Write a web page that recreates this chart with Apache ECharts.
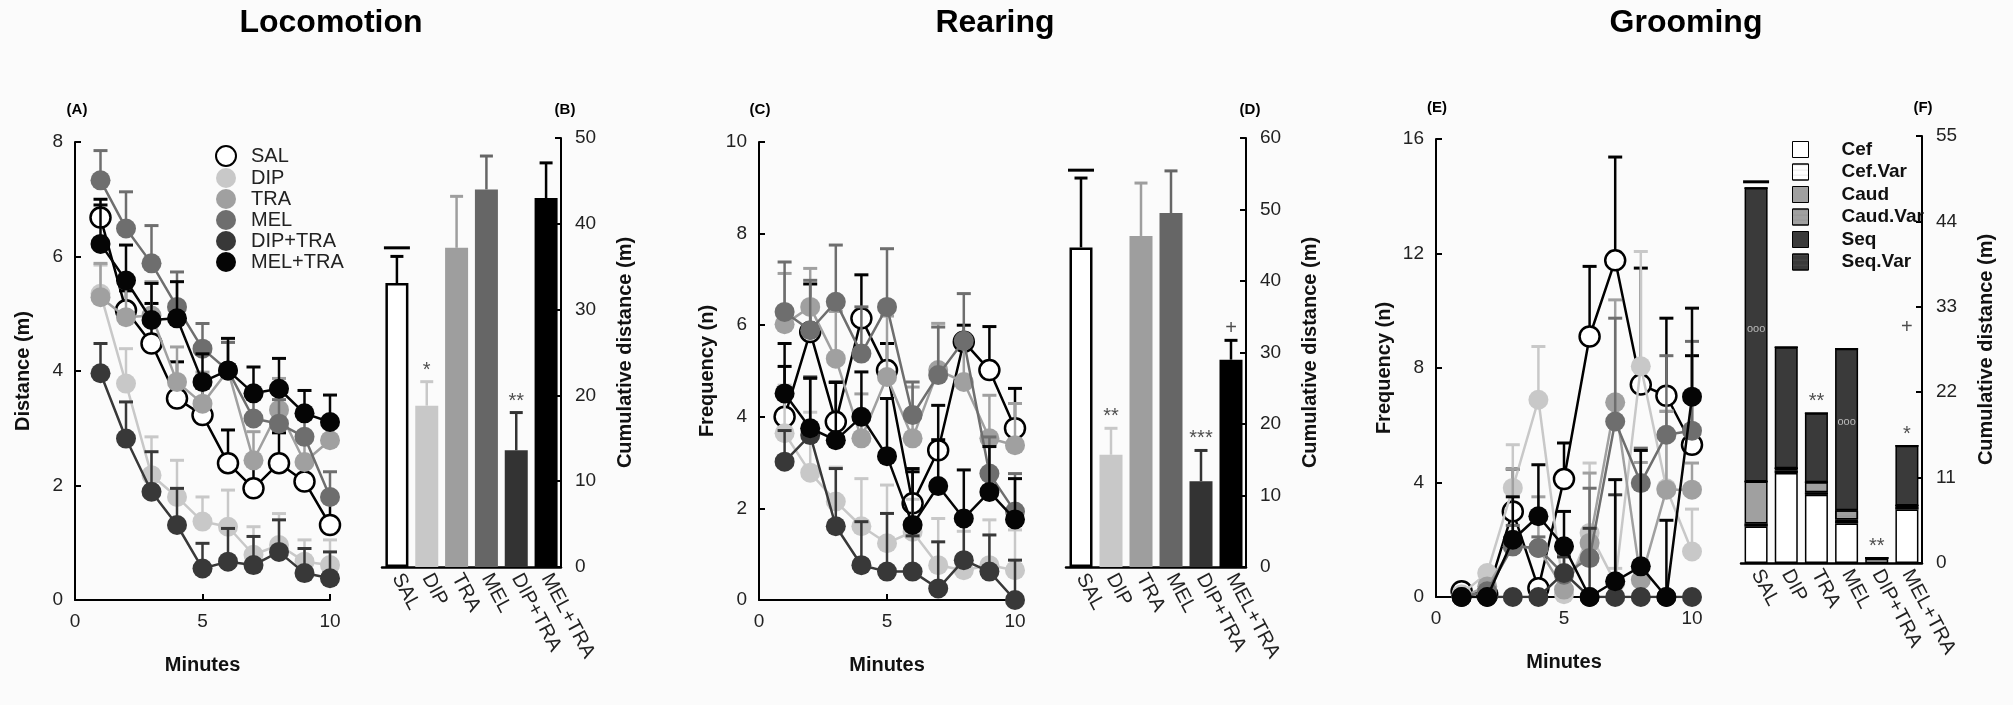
<!DOCTYPE html>
<html>
<head>
<meta charset="utf-8">
<script src="https://cdn.jsdelivr.net/npm/echarts@6/dist/echarts.min.js"></script>
<style>
  html, body { margin: 0; padding: 0; background: #fbfbfb; }
  #chart { width: 2013px; height: 705px; }
</style>
</head>
<body>
<div id="chart"></div>
<script>
// groups and time points
const groups = ['SAL', 'DIP', 'TRA', 'MEL', 'DIP+TRA', 'MEL+TRA'];
const minutes = [1, 2, 3, 4, 5, 6, 7, 8, 9, 10];

// (A) locomotion per minute: mean and top of error bar
const locoSal = [6.68, 5.06, 4.48, 3.52, 3.23, 2.39, 1.95, 2.39, 2.07, 1.31];
const locoSalErr = [7.0, 5.4, 5.18, 4.16, 3.7, 2.97, 2.4, 2.92, 2.5, 1.7];
const locoDip = [5.35, 3.78, 2.18, 1.80, 1.37, 1.28, 0.79, 0.96, 0.67, 0.61];
const locoDipErr = [5.85, 4.39, 2.85, 2.44, 1.80, 1.92, 1.28, 1.51, 1.05, 1.05];
const locoTra = [5.29, 4.94, 4.97, 3.81, 3.43, 4.01, 2.44, 3.32, 2.41, 2.79];
const locoTraErr = [5.88, 5.47, 5.56, 4.42, 3.98, 4.5, 2.94, 3.87, 2.9, 3.2];
const locoMel = [7.33, 6.49, 5.88, 5.12, 4.39, 4.01, 3.17, 3.08, 2.85, 1.80];
const locoMelErr = [7.85, 7.13, 6.54, 5.73, 4.83, 4.5, 3.6, 3.5, 3.3, 2.24];
const locoDipTra = [3.96, 2.82, 1.89, 1.31, 0.55, 0.67, 0.61, 0.84, 0.47, 0.38];
const locoDipTraErr = [4.48, 3.46, 2.59, 1.95, 0.99, 1.25, 1.11, 1.40, 0.90, 0.84];
const locoMelTra = [6.22, 5.58, 4.89, 4.92, 3.81, 4.01, 3.61, 3.69, 3.26, 3.11];
const locoMelTraErr = [6.9, 6.20, 5.53, 5.56, 4.30, 4.57, 4.07, 4.22, 3.66, 3.58];

// (B) cumulative locomotion
const locoTotal = [33.1, 18.8, 37.2, 44.0, 13.6, 43.0];
const locoTotalErr = [36.2, 21.6, 43.2, 47.9, 18.0, 47.1];
const locoMarks = ['', '*', '', '', '**', ''];
const locoSalLine = 37.2;

// (C) rearing per minute
const rearSal = [4.0, 5.85, 3.89, 6.15, 5.02, 2.11, 3.27, 5.64, 5.02, 3.75];
const rearSalErr = [5.1, 6.9, 4.75, 7.1, 5.6, 2.8, 3.5, 6.0, 5.97, 4.62];
const rearDip = [3.64, 2.78, 2.15, 1.61, 1.24, 1.49, 0.76, 0.65, 0.76, 0.65];
const rearDipErr = [4.69, 4.1, 2.9, 2.65, 2.51, 2.2, 1.78, 1.5, 1.75, 1.53];
const rearTra = [6.02, 6.4, 5.27, 3.53, 4.87, 3.53, 5.02, 4.76, 3.53, 3.38];
const rearTraErr = [7.13, 7.24, 6.3, 4.5, 6.2, 4.65, 6.04, 5.7, 4.47, 4.29];
const rearMel = [6.29, 5.89, 6.51, 5.38, 6.4, 4.04, 4.91, 5.66, 2.76, 1.93];
const rearMelErr = [7.38, 6.98, 7.75, 6.4, 7.67, 4.76, 5.96, 6.69, 3.56, 2.76];
const rearDipTra = [3.02, 3.6, 1.61, 0.76, 0.62, 0.62, 0.25, 0.87, 0.62, 0.0];
const rearDipTraErr = [3.7, 4.87, 2.87, 1.71, 1.89, 1.4, 1.27, 1.78, 1.42, 0.87];
const rearMelTra = [4.51, 3.75, 3.49, 4.0, 3.14, 1.64, 2.49, 1.78, 2.36, 1.76];
const rearMelTraErr = [5.6, 4.84, 4.76, 4.98, 4.4, 2.87, 4.25, 2.84, 3.35, 2.65];

// (D) cumulative rearing
const rearTotal = [44.7, 15.7, 46.3, 49.5, 12.0, 29.0];
const rearTotalErr = [54.4, 19.4, 53.7, 55.4, 16.3, 31.7];
const rearMarks = ['', '**', '', '', '***', '+'];
const rearSalLine = 55.5;

// (E) grooming per minute
const groomSal = [0.2, 0.1, 2.99, 0.31, 4.12, 9.1, 11.76, 7.42, 7.03, 5.32];
const groomSalErr = [0.3, 0.2, 4.47, 0.5, 5.38, 11.55, 15.37, 11.49, 9.74, 8.43];
const groomDip = [0.1, 0.84, 3.81, 6.89, 0.1, 2.24, 0.5, 8.06, 3.8, 1.59];
const groomDipErr = [0.2, 1.0, 5.32, 8.75, 0.3, 4.68, 1.0, 12.07, 6.5, 3.07];
const groomTra = [0, 0.37, 1.77, 1.71, 0.26, 1.89, 6.8, 0.6, 3.75, 3.75];
const groomTraErr = [0, 0.5, 4.47, 3.5, 0.5, 4.33, 10.38, 4.7, 6.48, 4.68];
const groomMel = [0, 0.2, 1.77, 1.71, 0.78, 1.36, 6.13, 3.98, 5.67, 5.81];
const groomMelErr = [0, 0.3, 2.5, 2.1, 1.5, 3.8, 9.74, 5.2, 8.43, 8.93];
const groomDipTra = [0, 0, 0, 0, 0.84, 0, 0, 0, 0, 0];
const groomDipTraErr = [0, 0, 0, 0, 1.4, 2.4, 3.57, 0, 0, 0];
const groomMelTra = [0, 0, 2.0, 2.82, 1.77, 0, 0.55, 1.07, 0, 7.0];
const groomMelTraErr = [0, 0, 3.5, 4.62, 2.99, 0, 4.1, 5.12, 2.68, 10.09];

// (F) cumulative grooming by type (stacked)
const groomTypes = ['Cef', 'Cef.Var', 'Caud', 'Caud.Var', 'Seq', 'Seq.Var'];
const cefVals = [4.7, 11.6, 8.8, 5.1, 0.5, 6.9];
const cefVarVals = [0.4, 0.3, 0.3, 0.3, 0.15, 0.3];
const caudVals = [5.4, 0.3, 1.3, 0.2, 0, 0.2];
const caudVarVals = [0, 0, 0, 1.2, 0, 0];
const seqVals = [37.8, 15.6, 8.9, 20.8, 0, 7.7];
const seqVarVals = [0, 0, 0, 0, 0, 0];
const groomMarks = ['', '', '**', '', '**', '*'];
const groomPlus = [null, null, null, null, null, 30.3];
const groomOoo = [30.2, null, null, 18.2, null, null];
const groomSalLine = 49.1;

// tick settings
const locoTicks = { min: 0, max: 8, interval: 2 };
const rearTicks = { min: 0, max: 10, interval: 2 };
const groomTicks = { min: 0, max: 16, interval: 4 };
const locoBarTicks = { min: 0, max: 50, interval: 10 };
const rearBarTicks = { min: 0, max: 60, interval: 10 };
const groomBarTicks = { min: 0, max: 55, interval: 11 };

const FONT = '"Liberation Sans", Arial, sans-serif';
const lineCol = ['#000000', '#c8c8c8', '#a0a0a0', '#6e6e6e', '#383838', '#050505'];
const barCol = ['#ffffff', '#c8c8c8', '#9e9e9e', '#666666', '#333333', '#000000'];
const barErrCol = ['#000000', '#c8c8c8', '#9e9e9e', '#666666', '#333333', '#000000'];
const typeCol = ['#ffffff', '#ffffff', '#a0a0a0', '#a0a0a0', '#3a3a3a', '#3a3a3a'];

function typeDecal(t) {
  if (t % 2 === 0) return null;
  return { symbol: 'circle', symbolSize: 0.6, color: t === 1 ? '#999' : '#777', dashArrayX: [1, 0], dashArrayY: [2, 3] };
}

function errBar(colorOf, cap) {
  return function (params, api) {
    const c = colorOf(params.dataIndex);
    const a = api.coord([api.value(0), api.value(1)]);
    const b = api.coord([api.value(0), api.value(2)]);
    return {
      type: 'group',
      children: [
        { type: 'line', shape: { x1: a[0], y1: a[1], x2: b[0], y2: b[1] }, style: { stroke: c, lineWidth: 2.5 } },
        { type: 'line', shape: { x1: b[0] - cap / 2, y1: b[1], x2: b[0] + cap / 2, y2: b[1] }, style: { stroke: c, lineWidth: 3 } }
      ]
    };
  };
}

function linePanel(idx, means, errs) {
  const out = [];
  means.forEach(function (m, g) {
    out.push({
      type: 'custom', xAxisIndex: idx, yAxisIndex: idx, z: 2 + g * 2, silent: true,
      data: minutes.map(function (x, i) { return [x, m[i], errs[g][i]]; }),
      renderItem: errBar(function () { return lineCol[g]; }, 14)
    });
    out.push({
      type: 'line', name: groups[g], xAxisIndex: idx, yAxisIndex: idx, z: 3 + g * 2,
      data: minutes.map(function (x, i) { return [x, m[i]]; }),
      symbol: 'circle', symbolSize: 20, showSymbol: true,
      lineStyle: { color: lineCol[g], width: 2.5 },
      itemStyle: g === 0 ? { color: '#ffffff', borderColor: '#000000', borderWidth: 2.5 } : { color: lineCol[g] },
      emphasis: { disabled: true }
    });
  });
  return out;
}

function salLine(idx, value) {
  return {
    type: 'custom', xAxisIndex: idx, yAxisIndex: idx, z: 6, silent: true,
    data: [[0, value]],
    renderItem: function (params, api) {
      const p = api.coord([api.value(0), api.value(1)]);
      return { type: 'line', shape: { x1: p[0] - 13, y1: p[1], x2: p[0] + 13, y2: p[1] }, style: { stroke: '#000', lineWidth: 3 } };
    }
  };
}

function markSeries(idx, positions, marks, pos) {
  return {
    type: 'scatter', xAxisIndex: idx, yAxisIndex: idx, z: 8, silent: true,
    symbolSize: 1, itemStyle: { color: 'rgba(0,0,0,0)' },
    data: positions.map(function (v, i) { return [i, v]; }),
    label: {
      show: true, position: pos || 'top', distance: 1,
      fontFamily: FONT, fontSize: 20, color: '#222',
      formatter: function (p) { return marks[p.dataIndex]; }
    }
  };
}

function barPanel(idx, totals, errs, marks, lineVal) {
  return [
    {
      type: 'bar', xAxisIndex: idx, yAxisIndex: idx, barWidth: 23, z: 3, silent: true,
      data: totals.map(function (v, i) {
        return {
          value: v,
          itemStyle: i === 0 ? { color: '#fff', borderColor: '#000', borderWidth: 2.5 } : { color: barCol[i] }
        };
      })
    },
    {
      type: 'custom', xAxisIndex: idx, yAxisIndex: idx, z: 2, silent: true,
      data: totals.map(function (v, i) { return [i, v, errs[i]]; }),
      renderItem: errBar(function (i) { return barErrCol[i]; }, 13)
    },
    salLine(idx, lineVal),
    markSeries(idx, errs, marks)
  ];
}

function lineAxes(gi, ticks, yName) {
  return {
    x: {
      type: 'value', gridIndex: gi, min: 0, max: 10, interval: 5,
      axisLine: { lineStyle: { color: '#000', width: 2 } },
      axisTick: { show: true, inside: true, length: 6, lineStyle: { color: '#000', width: 2 } },
      axisLabel: { fontFamily: FONT, fontSize: 19, color: '#222', margin: 12 },
      splitLine: { show: false },
      name: 'Minutes', nameLocation: 'middle', nameGap: 55,
      nameTextStyle: { fontFamily: FONT, fontSize: 20, fontWeight: 'bold', color: '#111' }
    },
    y: {
      type: 'value', gridIndex: gi, min: ticks.min, max: ticks.max, interval: ticks.interval,
      axisLine: { show: true, lineStyle: { color: '#000', width: 2 } },
      axisTick: { show: true, inside: true, length: 6, lineStyle: { color: '#000', width: 2 } },
      axisLabel: { fontFamily: FONT, fontSize: 19, color: '#222', margin: 12 },
      splitLine: { show: false },
      name: yName, nameLocation: 'middle', nameGap: 42, nameRotate: 90,
      nameTextStyle: { fontFamily: FONT, fontSize: 20, fontWeight: 'bold', color: '#111' }
    }
  };
}

function barAxes(gi, ticks) {
  return {
    x: {
      type: 'category', gridIndex: gi, data: groups,
      axisLine: { lineStyle: { color: '#000', width: 2.5 } },
      axisTick: { show: false },
      axisLabel: { interval: 0, rotate: -62, fontFamily: FONT, fontSize: 20, color: '#222', margin: 8 }
    },
    y: {
      type: 'value', gridIndex: gi, position: 'right',
      min: ticks.min, max: ticks.max, interval: ticks.interval,
      axisLine: { show: true, lineStyle: { color: '#000', width: 2 } },
      axisTick: { show: true, inside: true, length: 6, lineStyle: { color: '#000', width: 2 } },
      axisLabel: { fontFamily: FONT, fontSize: 19, color: '#222', margin: 14 },
      splitLine: { show: false },
      name: 'Cumulative distance (m)', nameLocation: 'middle', nameGap: 54, nameRotate: 90,
      nameTextStyle: { fontFamily: FONT, fontSize: 20, fontWeight: 'bold', color: '#111' }
    }
  };
}

const axA = lineAxes(0, locoTicks, 'Distance (m)');
const axB = barAxes(1, locoBarTicks);
const axC = lineAxes(2, rearTicks, 'Frequency (n)');
const axD = barAxes(3, rearBarTicks);
const axE = lineAxes(4, groomTicks, 'Frequency (n)');
const axF = barAxes(5, groomBarTicks);

// stacked grooming bars
const typeVals = [cefVals, cefVarVals, caudVals, caudVarVals, seqVals, seqVarVals];
const groomStack = typeVals.map(function (vals, t) {
  return {
    type: 'bar', name: groomTypes[t], xAxisIndex: 5, yAxisIndex: 5, stack: 'groom', barWidth: 23, z: 3,
    silent: true,
    data: vals,
    itemStyle: { color: typeCol[t], borderColor: '#000', borderWidth: 1.5, decal: typeDecal(t) }
  };
});
const groomTotals = groups.map(function (g, i) {
  return typeVals.reduce(function (s, arr) { return s + arr[i]; }, 0);
});

const series = []
  .concat(linePanel(0, [locoSal, locoDip, locoTra, locoMel, locoDipTra, locoMelTra],
    [locoSalErr, locoDipErr, locoTraErr, locoMelErr, locoDipTraErr, locoMelTraErr]))
  .concat(barPanel(1, locoTotal, locoTotalErr, locoMarks, locoSalLine))
  .concat(linePanel(2, [rearSal, rearDip, rearTra, rearMel, rearDipTra, rearMelTra],
    [rearSalErr, rearDipErr, rearTraErr, rearMelErr, rearDipTraErr, rearMelTraErr]))
  .concat(barPanel(3, rearTotal, rearTotalErr, rearMarks, rearSalLine))
  .concat(linePanel(4, [groomSal, groomDip, groomTra, groomMel, groomDipTra, groomMelTra],
    [groomSalErr, groomDipErr, groomTraErr, groomMelErr, groomDipTraErr, groomMelTraErr]))
  .concat(groomStack)
  .concat([
    salLine(5, groomSalLine),
    markSeries(5, groomTotals, groomMarks),
    markSeries(5, groomPlus, groups.map(function () { return '+'; }), 'inside'),
    {
      type: 'scatter', xAxisIndex: 5, yAxisIndex: 5, z: 8, silent: true,
      symbolSize: 1, itemStyle: { color: 'rgba(0,0,0,0)' },
      data: groomOoo.map(function (v, i) { return [i, v]; }),
      label: { show: true, position: 'inside', formatter: 'ooo', fontFamily: FONT, fontSize: 11, color: '#d8d8d8' }
    }
  ]);

function txt(x, y, text, font) {
  return { type: 'text', x: x, y: y, style: { text: text, font: font, fill: '#000', align: 'center', verticalAlign: 'middle' } };
}
const titleFont = 'bold 32px "Liberation Sans", Arial, sans-serif';
const panelFont = 'bold 15px "Liberation Sans", Arial, sans-serif';

const option = {
  backgroundColor: '#fbfbfb',
  animation: false,
  grid: [
    { left: 75, top: 142, width: 255, height: 458 },
    { left: 382, top: 138, width: 179, height: 429 },
    { left: 759, top: 142, width: 256, height: 458 },
    { left: 1066, top: 138, width: 180, height: 429 },
    { left: 1436, top: 139, width: 256, height: 458 },
    { left: 1741, top: 136, width: 181, height: 427 }
  ],
  xAxis: [axA.x, axB.x, axC.x, axD.x, axE.x, axF.x],
  yAxis: [axA.y, axB.y, axC.y, axD.y, axE.y, axF.y],
  legend: [
    {
      data: groups, left: 210, top: 140, orient: 'vertical', icon: 'circle',
      itemWidth: 40, itemHeight: 20, itemGap: 1, selectedMode: false,
      textStyle: { fontFamily: FONT, fontSize: 20, color: '#222' }
    },
    {
      data: groomTypes.map(function (n, t) {
        return { name: n, itemStyle: { color: typeCol[t], borderColor: '#000', borderWidth: 1, decal: typeDecal(t) } };
      }),
      left: 1787, top: 135, orient: 'vertical', icon: 'rect',
      itemWidth: 16, itemHeight: 16, itemGap: 3.5, selectedMode: false,
      textStyle: { fontFamily: FONT, fontSize: 19, fontWeight: 'bold', color: '#111', padding: [0, 0, 0, 28] }
    }
  ],
  graphic: [
    txt(331, 23, 'Locomotion', titleFont),
    txt(995, 23, 'Rearing', titleFont),
    txt(1686, 23, 'Grooming', titleFont),
    txt(77, 110, '(A)', panelFont),
    txt(565, 110, '(B)', panelFont),
    txt(760, 110, '(C)', panelFont),
    txt(1250, 110, '(D)', panelFont),
    txt(1437, 108, '(E)', panelFont),
    txt(1923, 108, '(F)', panelFont)
  ],
  series: series
};

const chart = echarts.init(document.getElementById('chart'), null, { renderer: 'canvas' });
chart.setOption(option);
</script>
</body>
</html>
